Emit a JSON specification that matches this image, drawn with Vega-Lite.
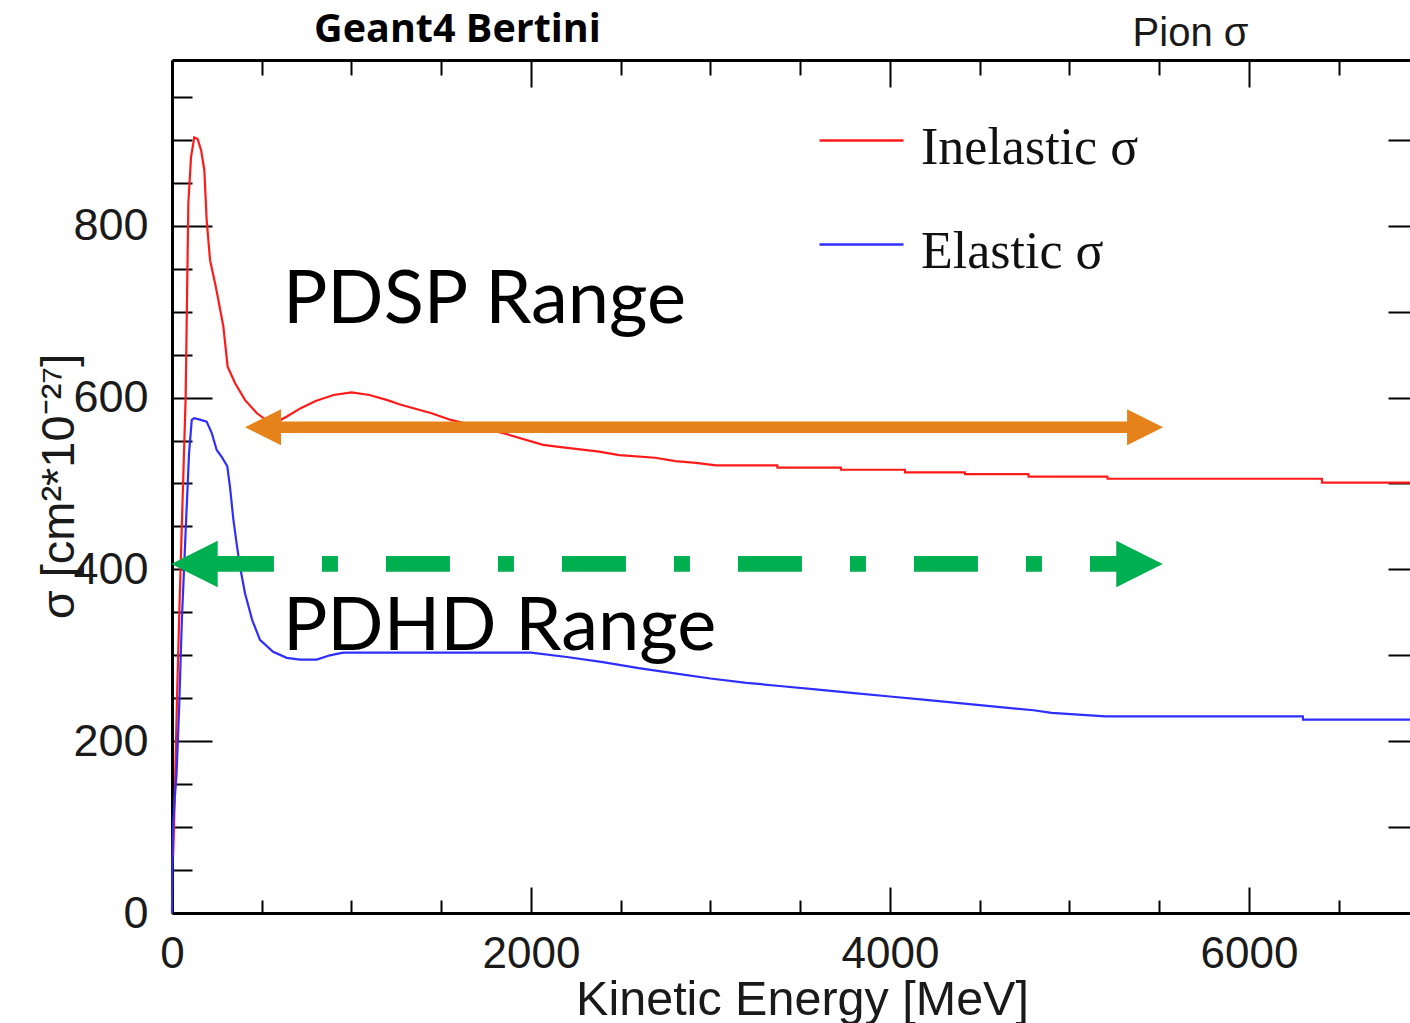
{
  "$schema": "https://vega.github.io/schema/vega-lite/v6.json",
  "width": 1238,
  "height": 853,
  "autosize": {"type": "none"},
  "padding": {"left": 172, "top": 60, "right": 0, "bottom": 110},
  "background": "white",
  "config": {"view": {"stroke": null}, "axis": {"grid": false}},
  "datasets": {
    "curves": [
      {"series": "Inelastic σ", "E": 6, "sigma": 66},
      {"series": "Inelastic σ", "E": 10, "sigma": 90},
      {"series": "Inelastic σ", "E": 18, "sigma": 160},
      {"series": "Inelastic σ", "E": 28, "sigma": 250},
      {"series": "Inelastic σ", "E": 40, "sigma": 345},
      {"series": "Inelastic σ", "E": 56, "sigma": 460},
      {"series": "Inelastic σ", "E": 76, "sigma": 600},
      {"series": "Inelastic σ", "E": 91, "sigma": 826},
      {"series": "Inelastic σ", "E": 106, "sigma": 880},
      {"series": "Inelastic σ", "E": 124, "sigma": 903},
      {"series": "Inelastic σ", "E": 143, "sigma": 901},
      {"series": "Inelastic σ", "E": 162, "sigma": 888},
      {"series": "Inelastic σ", "E": 180, "sigma": 865},
      {"series": "Inelastic σ", "E": 193, "sigma": 807},
      {"series": "Inelastic σ", "E": 212, "sigma": 760},
      {"series": "Inelastic σ", "E": 240, "sigma": 733},
      {"series": "Inelastic σ", "E": 258, "sigma": 714},
      {"series": "Inelastic σ", "E": 286, "sigma": 683},
      {"series": "Inelastic σ", "E": 310, "sigma": 636},
      {"series": "Inelastic σ", "E": 351, "sigma": 617},
      {"series": "Inelastic σ", "E": 407, "sigma": 597},
      {"series": "Inelastic σ", "E": 472, "sigma": 582},
      {"series": "Inelastic σ", "E": 530, "sigma": 573},
      {"series": "Inelastic σ", "E": 580, "sigma": 571},
      {"series": "Inelastic σ", "E": 640, "sigma": 578},
      {"series": "Inelastic σ", "E": 720, "sigma": 588},
      {"series": "Inelastic σ", "E": 800, "sigma": 596},
      {"series": "Inelastic σ", "E": 900, "sigma": 603},
      {"series": "Inelastic σ", "E": 1000, "sigma": 606},
      {"series": "Inelastic σ", "E": 1100, "sigma": 603},
      {"series": "Inelastic σ", "E": 1200, "sigma": 597},
      {"series": "Inelastic σ", "E": 1270, "sigma": 592},
      {"series": "Inelastic σ", "E": 1441, "sigma": 582},
      {"series": "Inelastic σ", "E": 1554, "sigma": 574},
      {"series": "Inelastic σ", "E": 1838, "sigma": 559},
      {"series": "Inelastic σ", "E": 2067, "sigma": 545},
      {"series": "Inelastic σ", "E": 2178, "sigma": 542},
      {"series": "Inelastic σ", "E": 2379, "sigma": 537},
      {"series": "Inelastic σ", "E": 2492, "sigma": 533},
      {"series": "Inelastic σ", "E": 2691, "sigma": 530},
      {"series": "Inelastic σ", "E": 2805, "sigma": 526},
      {"series": "Inelastic σ", "E": 2919, "sigma": 524},
      {"series": "Inelastic σ", "E": 3031, "sigma": 521},
      {"series": "Inelastic σ", "E": 3372, "sigma": 521},
      {"series": "Inelastic σ", "E": 3373, "sigma": 518.5},
      {"series": "Inelastic σ", "E": 3726, "sigma": 518.5},
      {"series": "Inelastic σ", "E": 3727, "sigma": 516},
      {"series": "Inelastic σ", "E": 4083, "sigma": 516},
      {"series": "Inelastic σ", "E": 4084, "sigma": 513},
      {"series": "Inelastic σ", "E": 4417, "sigma": 513},
      {"series": "Inelastic σ", "E": 4418, "sigma": 511},
      {"series": "Inelastic σ", "E": 4771, "sigma": 511},
      {"series": "Inelastic σ", "E": 4772, "sigma": 508},
      {"series": "Inelastic σ", "E": 5211, "sigma": 508},
      {"series": "Inelastic σ", "E": 5212, "sigma": 505.5},
      {"series": "Inelastic σ", "E": 6406, "sigma": 505.5},
      {"series": "Inelastic σ", "E": 6407, "sigma": 501},
      {"series": "Inelastic σ", "E": 6897, "sigma": 501},
      {"series": "Elastic σ", "E": 0, "sigma": 0},
      {"series": "Elastic σ", "E": 2, "sigma": 50},
      {"series": "Elastic σ", "E": 5, "sigma": 100},
      {"series": "Elastic σ", "E": 14, "sigma": 130},
      {"series": "Elastic σ", "E": 25, "sigma": 160},
      {"series": "Elastic σ", "E": 40, "sigma": 240},
      {"series": "Elastic σ", "E": 55, "sigma": 341},
      {"series": "Elastic σ", "E": 78, "sigma": 454},
      {"series": "Elastic σ", "E": 95, "sigma": 535},
      {"series": "Elastic σ", "E": 110, "sigma": 574},
      {"series": "Elastic σ", "E": 124, "sigma": 576},
      {"series": "Elastic σ", "E": 160, "sigma": 574},
      {"series": "Elastic σ", "E": 193, "sigma": 572},
      {"series": "Elastic σ", "E": 221, "sigma": 559},
      {"series": "Elastic σ", "E": 249, "sigma": 539},
      {"series": "Elastic σ", "E": 277, "sigma": 531},
      {"series": "Elastic σ", "E": 308, "sigma": 520},
      {"series": "Elastic σ", "E": 323, "sigma": 496},
      {"series": "Elastic σ", "E": 342, "sigma": 458},
      {"series": "Elastic σ", "E": 360, "sigma": 430},
      {"series": "Elastic σ", "E": 379, "sigma": 403},
      {"series": "Elastic σ", "E": 407, "sigma": 372},
      {"series": "Elastic σ", "E": 447, "sigma": 341},
      {"series": "Elastic σ", "E": 490, "sigma": 318},
      {"series": "Elastic σ", "E": 563, "sigma": 304},
      {"series": "Elastic σ", "E": 639, "sigma": 297},
      {"series": "Elastic σ", "E": 713, "sigma": 295},
      {"series": "Elastic σ", "E": 806, "sigma": 295},
      {"series": "Elastic σ", "E": 880, "sigma": 300},
      {"series": "Elastic σ", "E": 953, "sigma": 303},
      {"series": "Elastic σ", "E": 2000, "sigma": 303},
      {"series": "Elastic σ", "E": 2200, "sigma": 298},
      {"series": "Elastic σ", "E": 2400, "sigma": 292},
      {"series": "Elastic σ", "E": 2600, "sigma": 285},
      {"series": "Elastic σ", "E": 2800, "sigma": 279},
      {"series": "Elastic σ", "E": 3000, "sigma": 273},
      {"series": "Elastic σ", "E": 3200, "sigma": 268},
      {"series": "Elastic σ", "E": 3400, "sigma": 264},
      {"series": "Elastic σ", "E": 3600, "sigma": 260},
      {"series": "Elastic σ", "E": 3800, "sigma": 256},
      {"series": "Elastic σ", "E": 4000, "sigma": 252},
      {"series": "Elastic σ", "E": 4200, "sigma": 248},
      {"series": "Elastic σ", "E": 4400, "sigma": 244},
      {"series": "Elastic σ", "E": 4600, "sigma": 240},
      {"series": "Elastic σ", "E": 4800, "sigma": 236},
      {"series": "Elastic σ", "E": 4900, "sigma": 233},
      {"series": "Elastic σ", "E": 5200, "sigma": 229},
      {"series": "Elastic σ", "E": 6300, "sigma": 229},
      {"series": "Elastic σ", "E": 6301, "sigma": 225},
      {"series": "Elastic σ", "E": 6897, "sigma": 225}
    ],
    "arrows": [
      {"range": "PDSP", "from": 507, "to": 5421, "level": 565.4},
      {"range": "PDHD", "from": 125, "to": 5390, "level": 406.4}
    ],
    "labels": [
      {"label": "PDSP Range", "E": 618, "sigma": 687},
      {"label": "PDHD Range", "E": 618, "sigma": 306}
    ]
  },
  "layer": [
    {
      "data": {"name": "curves"},
      "mark": {"type": "line", "strokeWidth": 2.2},
      "encoding": {
        "x": {
          "field": "E", "type": "quantitative",
          "scale": {"domain": [0, 6897], "nice": false, "zero": false},
          "axis": {
            "orient": "bottom",
            "values": [0, 500, 1000, 1500, 2000, 2500, 3000, 3500, 4000, 4500, 5000, 5500, 6000, 6500],
            "format": "d",
            "labelExpr": "datum.value % 2000 === 0 ? datum.label : ''",
            "domainColor": "black", "domainWidth": 3,
            "tickColor": "black", "tickWidth": 2,
            "tickSize": {"condition": {"test": "datum.value % 2000 === 0", "value": -26}, "value": -13},
            "labelFont": "Liberation Sans", "labelFontSize": 44, "labelColor": "#1a1a1a",
            "labelPadding": 45, "labelFlush": false, "labelOverlap": false,
            "title": "Kinetic Energy [MeV]",
            "titleFont": "Liberation Sans", "titleFontSize": 48.5, "titleFontWeight": "normal", "titleColor": "#1a1a1a",
            "titleX": 630, "titleY": 101, "titleAlign": "center", "titleBaseline": "alphabetic"
          }
        },
        "y": {
          "field": "sigma", "type": "quantitative",
          "scale": {"domain": [0, 993], "nice": false, "zero": false},
          "axis": {
            "orient": "left",
            "values": [0, 50, 100, 150, 200, 250, 300, 350, 400, 450, 500, 550, 600, 650, 700, 750, 800, 850, 900, 950],
            "labelExpr": "datum.value % 200 === 0 ? datum.label : ''",
            "domainColor": "black", "domainWidth": 3,
            "tickColor": "black", "tickWidth": 2,
            "tickSize": {"condition": {"test": "datum.value % 200 === 0", "value": -40}, "value": -20},
            "labelFont": "Liberation Sans", "labelFontSize": 45, "labelColor": "#1a1a1a",
            "labelPadding": 64, "labelFlush": false, "labelOverlap": false,
            "title": "σ [cm²*10⁻²⁷]",
            "titleFont": "Liberation Sans", "titleFontSize": 47, "titleFontWeight": "normal", "titleColor": "#1a1a1a",
            "titleAngle": 270, "titleX": -99, "titleY": 426, "titleAlign": "center", "titleBaseline": "alphabetic"
          }
        },
        "color": {
          "field": "series", "type": "nominal",
          "scale": {"domain": ["Inelastic σ", "Elastic σ"], "range": ["#ff1a1a", "#2e2eff"]},
          "legend": {
            "orient": "none", "legendX": 646, "legendY": 37, "title": null,
            "symbolType": "stroke", "symbolSize": 7056, "symbolStrokeWidth": 2.5,
            "labelFont": "Liberation Serif", "labelFontSize": 52, "labelColor": "#111111",
            "labelOffset": 16, "rowPadding": 27, "padding": 0, "labelLimit": 0,
            "encode": {"labels": {"update": {"dy": {"value": 7}}}}
          }
        }
      }
    },
    {
      "data": {"name": "arrows"},
      "mark": {"type": "rule", "strokeCap": "butt", "strokeDashOffset": 160.5},
      "encoding": {
        "x": {
          "field": "from", "type": "quantitative",
          "scale": {"domain": [0, 6897], "nice": false, "zero": false},
          "axis": {
            "orient": "top",
            "values": [0, 500, 1000, 1500, 2000, 2500, 3000, 3500, 4000, 4500, 5000, 5500, 6000, 6500],
            "labels": false,
            "domainColor": "black", "domainWidth": 3,
            "tickColor": "black", "tickWidth": 2,
            "tickSize": {"condition": {"test": "datum.value % 2000 === 0", "value": -27}, "value": -15},
            "title": "Geant4 Bertini",
            "titleFont": "Open Sans", "titleFontSize": 39.5, "titleFontWeight": "bold", "titleColor": "black",
            "titleX": 285, "titleY": -19, "titleAlign": "center", "titleBaseline": "alphabetic"
          }
        },
        "x2": {"field": "to"},
        "y": {
          "field": "level", "type": "quantitative",
          "scale": {"domain": [0, 993], "nice": false, "zero": false},
          "axis": {
            "orient": "right",
            "values": [100, 200, 300, 400, 500, 600, 700, 800, 900],
            "labels": false, "domain": false,
            "tickColor": "black", "tickWidth": 2, "tickSize": -22,
            "title": "Pion σ",
            "titleFont": "Liberation Sans", "titleFontSize": 40, "titleFontWeight": "normal", "titleColor": "#1a1a1a",
            "titleAngle": 0, "titleX": -220, "titleY": -15, "titleAlign": "center", "titleBaseline": "alphabetic"
          }
        },
        "color": {
          "field": "range", "type": "nominal",
          "scale": {"domain": ["PDSP", "PDHD"], "range": ["#e5831a", "#00b050"]},
          "legend": null
        },
        "strokeWidth": {
          "field": "range", "type": "nominal",
          "scale": {"domain": ["PDSP", "PDHD"], "range": [11.6, 15.6]},
          "legend": null
        },
        "strokeDash": {
          "field": "range", "type": "nominal",
          "scale": {"domain": ["PDSP", "PDHD"], "range": [[1, 0], [64, 48, 16, 48]]},
          "legend": null
        }
      }
    },
    {
      "data": {"name": "arrows"},
      "mark": {"type": "point", "shape": "M-1,0L1,-1L1,1Z", "filled": true, "opacity": 1, "strokeWidth": 0},
      "encoding": {
        "x": {"field": "from", "type": "quantitative", "scale": {"domain": [0, 6897], "nice": false, "zero": false}, "axis": null},
        "y": {"field": "level", "type": "quantitative", "scale": {"domain": [0, 993], "nice": false, "zero": false}, "axis": null},
        "color": {"field": "range", "type": "nominal", "scale": {"domain": ["PDSP", "PDHD"], "range": ["#e5831a", "#00b050"]}, "legend": null},
        "size": {"field": "range", "type": "nominal", "scale": {"domain": ["PDSP", "PDHD"], "range": [1296, 2162]}, "legend": null}
      }
    },
    {
      "data": {"name": "arrows"},
      "mark": {"type": "point", "shape": "M1,0L-1,-1L-1,1Z", "filled": true, "opacity": 1, "strokeWidth": 0},
      "encoding": {
        "x": {"field": "to", "type": "quantitative", "scale": {"domain": [0, 6897], "nice": false, "zero": false}, "axis": null},
        "y": {"field": "level", "type": "quantitative", "scale": {"domain": [0, 993], "nice": false, "zero": false}, "axis": null},
        "color": {"field": "range", "type": "nominal", "scale": {"domain": ["PDSP", "PDHD"], "range": ["#e5831a", "#00b050"]}, "legend": null},
        "size": {"field": "range", "type": "nominal", "scale": {"domain": ["PDSP", "PDHD"], "range": [1296, 2162]}, "legend": null}
      }
    },
    {
      "data": {"name": "labels"},
      "mark": {"type": "text", "align": "left", "baseline": "alphabetic", "font": "Lato", "fontSize": 74, "color": "black"},
      "encoding": {
        "x": {"field": "E", "type": "quantitative", "scale": {"domain": [0, 6897], "nice": false, "zero": false}, "axis": null},
        "y": {"field": "sigma", "type": "quantitative", "scale": {"domain": [0, 993], "nice": false, "zero": false}, "axis": null},
        "text": {"field": "label", "type": "nominal"}
      }
    }
  ],
  "resolve": {
    "scale": {"color": "independent"},
    "axis": {"x": "independent", "y": "independent"}
  }
}
